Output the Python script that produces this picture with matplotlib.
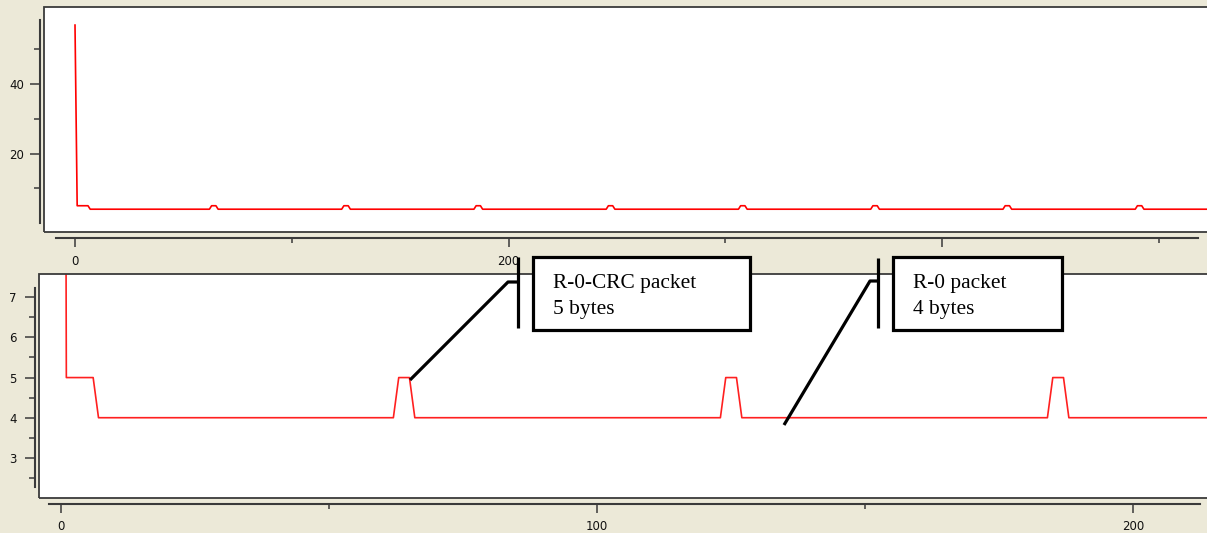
import numpy as np
import matplotlib
matplotlib.use("Agg")
import matplotlib.pyplot as plt
from matplotlib.patches import Rectangle
from matplotlib.lines import Line2D

# values (packet size per sample)
head_values = [57, 5, 5, 5, 5, 5, 5]
base_level = 4
peak_level = 5
bump_centers = [64, 125, 186, 247, 308, 369, 430, 491]
n_samples = 526

values = np.full(n_samples, base_level, dtype=float)
values[:len(head_values)] = head_values
for c in bump_centers:
    values[c - 1:c + 2] = peak_level
idx = np.arange(n_samples)

top_xticks_major = [0, 200, 400]
top_xticks_minor = [100, 300, 500]
top_yticks_major = [20, 40]
top_yticks_minor = [10, 30, 50]
bot_xticks_major = [0, 100, 200]
bot_xticks_minor = [50, 150]
bot_yticks_major = [3, 4, 5, 6, 7]
bot_yticks_minor = [2.5, 3.5, 4.5, 5.5, 6.5]

notes = [("R-0-CRC packet", "5 bytes"), ("R-0 packet", "4 bytes")]

W, H = 1207, 533
bg = "#ECE9D8"
dark = "#3a3a3a"


def fx(x):
    return x / W


def fy(y):
    return 1 - y / H


fig = plt.figure(figsize=(W / 100, H / 100), dpi=100, facecolor=bg)

ax1 = fig.add_axes([fx(44), fy(232), fx(1212 - 44), (232 - 7) / H])
ax2 = fig.add_axes([fx(39), fy(498), fx(1212 - 39), (498 - 274) / H])


def style(ax, left_out, bot_out, ybounds, xbounds, ymaj_len, ypad, xpad):
    ax.set_facecolor("white")
    for s in ["top", "right"]:
        ax.spines[s].set_visible(False)
    ax.spines["left"].set_position(("outward", left_out))
    ax.spines["bottom"].set_position(("outward", bot_out))
    ax.spines["left"].set_bounds(*ybounds)
    ax.spines["bottom"].set_bounds(*xbounds)
    for s in ["left", "bottom"]:
        ax.spines[s].set_color(dark)
        ax.spines[s].set_linewidth(1.5)
    ax.add_patch(Rectangle((0, 0), 1, 1, transform=ax.transAxes, fill=False,
                           ec=dark, lw=1.3, clip_on=False, zorder=3))
    ax.tick_params(axis="both", which="both", direction="out", color=dark,
                   width=1.1, labelsize=8.5, labelcolor="#111111")
    ax.tick_params(axis="y", which="major", length=ymaj_len, pad=ypad)
    ax.tick_params(axis="y", which="minor", length=4)
    ax.tick_params(axis="x", which="major", length=6.5, pad=xpad)
    ax.tick_params(axis="x", which="minor", length=3.6)


ax1.plot(idx, values, color="#ff0000", lw=1.2)
ax1.set_xlim(-14.3, 524.4)
ax1.set_ylim(-2.56, 62.2)
ax1.set_xticks(top_xticks_major)
ax1.set_xticks(top_xticks_minor, minor=True)
ax1.set_yticks(top_yticks_major)
ax1.set_yticks(top_yticks_minor, minor=True)
style(ax1, 2.9, 4.0, (0, 58.4), (-8.8, 518), 7, 4.5, 6.0)

ax2.plot(idx, values, color="#ff2020", lw=1.2)
ax2.set_xlim(-4.1, 214.7)
ax2.set_ylim(2.0, 7.58)
ax2.set_xticks(bot_xticks_major)
ax2.set_xticks(bot_xticks_minor, minor=True)
ax2.set_yticks(bot_yticks_major)
ax2.set_yticks(bot_yticks_minor, minor=True)
style(ax2, 2.9, 4.3, (2.28, 7.22), (-2.2, 212.5), 7, 6, 4.8)

# callouts drawn on top of the figure
boxes = [(533, 257, 750, 330, 553), (893, 257, 1062, 330, 913)]
leaders = [
    [(518, 257), (518, 328)],
    [(878, 258), (878, 328)],
]
elbows = [
    [(517, 282), (508, 282), (410, 380)],
    [(877, 281), (870, 281), (784, 425)],
]
for (x0, y0, x1, y1, tx), (l1, l2) in zip(boxes, notes):
    fig.add_artist(Rectangle((fx(x0), fy(y1)), fx(x1 - x0), (y1 - y0) / H,
                             transform=fig.transFigure, fc="white", ec="black",
                             lw=2.3, zorder=6))
    fig.text(fx(tx), fy(288), l1, family="Liberation Serif", fontsize=15.4,
             va="baseline", ha="left", zorder=7)
    fig.text(fx(tx), fy(314), l2, family="Liberation Serif", fontsize=15.4,
             va="baseline", ha="left", zorder=7)
for seg in leaders + elbows:
    xs = [fx(p[0]) for p in seg]
    ys = [fy(p[1]) for p in seg]
    fig.add_artist(Line2D(xs, ys, transform=fig.transFigure, color="black",
                          lw=2.3, zorder=5, solid_capstyle="butt"))

fig.savefig("out.png", dpi=100, facecolor=bg)
